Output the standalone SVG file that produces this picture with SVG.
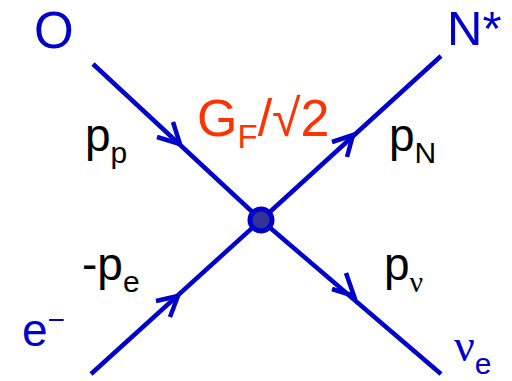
<svg xmlns="http://www.w3.org/2000/svg" width="512" height="381" viewBox="0 0 512 381">
<style>
.ln{stroke:#0000cc;stroke-width:4.5;fill:none;stroke-linecap:butt;stroke-linejoin:miter}
.bl{fill:#0000cc;font-family:"Liberation Sans",Arial,sans-serif}
.k{fill:#000;font-family:"Liberation Sans",Arial,sans-serif;font-size:46px}
.rd{fill:#ff3300;font-family:"Liberation Sans",Arial,sans-serif}
.gr{font-family:"Liberation Serif","Times New Roman",serif}
</style>
<rect width="512" height="381" fill="#fff"/>
<g id="connectors">
<line class="ln" x1="93" y1="64" x2="261" y2="220"/>
<line class="ln" x1="441" y1="56" x2="261" y2="220"/>
<line class="ln" x1="91" y1="374" x2="261" y2="220"/>
<line class="ln" x1="441" y1="374" x2="261" y2="220"/>
<path class="ln" d="M157,137 L180,144 L173,122"/>
<path class="ln" d="M332,142 L353,135 L347,157"/>
<path class="ln" d="M156,301 L178,296 L170,317"/>
<path class="ln" d="M332,289 L354,296 L346,273"/>
</g>
<g id="vertex">
<circle cx="261" cy="220" r="11" fill="#333399" stroke="#0000cc" stroke-width="5"/>
</g>
<g id="O"><text class="bl" x="34" y="48" font-size="51">O</text></g>
<g id="Nstar"><text class="bl" x="447" y="45" font-size="49">N*</text></g>
<g id="electron"><text class="bl" x="22" y="346" font-size="46">e<tspan font-size="30" dy="-16">−</tspan></text></g>
<g id="nue"><text class="bl" x="454" y="361" font-size="46"><tspan class="gr">ν</tspan><tspan font-size="30" dy="13">e</tspan></text></g>
<g id="coupling"><text class="rd" x="197" y="136" font-size="52">G<tspan font-size="33" dy="12">F</tspan><tspan dy="-12">/√2</tspan></text></g>
<g id="pp"><text class="k" x="85" y="151">p<tspan font-size="30" dy="12">p</tspan></text></g>
<g id="pN"><text class="k" x="389" y="151">p<tspan font-size="30" dy="12">N</tspan></text></g>
<g id="pe"><text class="k" x="82" y="280">-p<tspan font-size="30" dy="12">e</tspan></text></g>
<g id="pnu"><text class="k" x="384" y="280">p<tspan class="gr" font-size="30" dy="12">ν</tspan></text></g>
</svg>
